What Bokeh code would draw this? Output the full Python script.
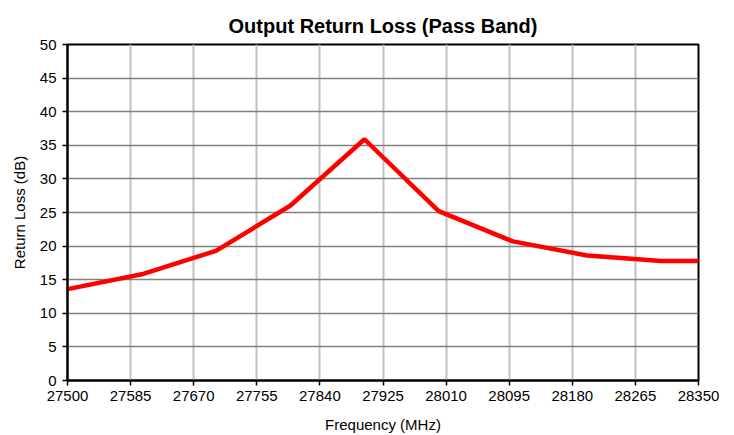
from bokeh.plotting import figure
from bokeh.models import Range1d, FixedTicker
from bokeh.embed import file_html
from bokeh.resources import INLINE

freq_mhz = [27500, 27600, 27700, 27800, 27900, 28000, 28100, 28200, 28300, 28350]
return_loss_db = [13.6, 15.8, 19.3, 26.0, 35.9, 25.2, 20.7, 18.6, 17.8, 17.8]
x_ticks = [27500, 27585, 27670, 27755, 27840, 27925, 28010, 28095, 28180, 28265, 28350]
y_ticks = [0, 5, 10, 15, 20, 25, 30, 35, 40, 45, 50]

FONT = "Liberation Sans"

p = figure(width=734, height=435, output_backend="svg", toolbar_location=None,
           x_range=Range1d(27500, 28350), y_range=Range1d(0, 50),
           min_border_left=67, min_border_right=36, min_border_top=44, min_border_bottom=55)

p.title.text = "Output Return Loss (Pass Band)"
p.title.text_font = FONT
p.title.text_font_size = "20px"
p.title.text_font_style = "bold"
p.title.align = "center"
p.title.text_color = "black"
p.title.offset = 0
p.title.standoff = 15

p.line(freq_mhz, return_loss_db, line_color="#ff0000", line_width=4.5)

p.xaxis.ticker = FixedTicker(ticks=x_ticks)
p.yaxis.ticker = FixedTicker(ticks=y_ticks)
p.xaxis.minor_tick_line_color = None
p.yaxis.minor_tick_line_color = None
for ax in (p.xaxis, p.yaxis):
    ax.axis_line_color = "black"
    ax.axis_line_width = 2
    ax.major_tick_line_color = "black"
    ax.major_tick_line_width = 1.5
    ax.major_tick_out = 5
    ax.major_tick_in = 0
    ax.major_label_text_font = FONT
    ax.major_label_text_font_size = "15px"
    ax.major_label_text_color = "black"
    ax.axis_label_text_font = FONT
    ax.axis_label_text_font_size = "15px"
    ax.axis_label_text_font_style = "normal"
    ax.axis_label_text_color = "black"

p.xaxis.axis_label = "Frequency (MHz)"
p.yaxis.axis_label = "Return Loss (dB)"
p.xaxis.major_label_standoff = 5
p.yaxis.major_label_standoff = 6
p.xaxis.axis_label_standoff = 12
p.yaxis.axis_label_standoff = 9

p.xgrid.grid_line_color = "#c0c0c0"
p.xgrid.grid_line_width = 2
p.ygrid.grid_line_color = "#808080"
p.ygrid.grid_line_width = 1.5

p.outline_line_color = "black"
p.outline_line_width = 2
p.outline_line_alpha = 1
p.background_fill_color = "white"
p.border_fill_color = "white"

open("out.html", "w").write(file_html(p, INLINE))
